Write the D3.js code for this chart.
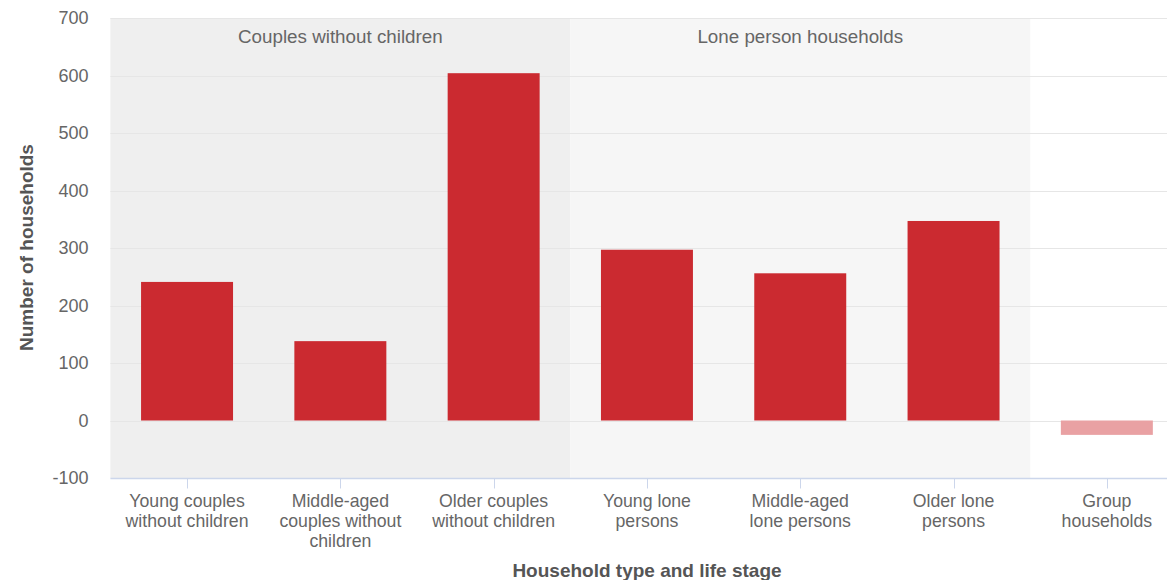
<!DOCTYPE html>
<html><head><meta charset="utf-8">
<script src="https://cdn.jsdelivr.net/npm/d3@7"></script>
<style>
html,body{margin:0;padding:0;background:#fff;overflow:hidden;}
svg{display:block;font-family:"Liberation Sans",Arial,sans-serif;}
</style></head>
<body><svg id="c" width="1167" height="580"></svg>
<script>
const categories = [
  ["Young couples","without children"],
  ["Middle-aged","couples without","children"],
  ["Older couples","without children"],
  ["Young lone","persons"],
  ["Middle-aged","lone persons"],
  ["Older lone","persons"],
  ["Group","households"]
];
const values = [241, 138, 604, 297, 256, 347, -25];
const yTicks = [-100, 0, 100, 200, 300, 400, 500, 600, 700];
const groupBands = [
  {label:"Couples without children", from:0, to:2, fill:"#efefef"},
  {label:"Lone person households", from:3, to:5, fill:"#f6f6f6"}
];
const yTitle = "Number of households";
const xTitle = "Household type and life stage";

(function(){
const svg = d3.select("#c");
const pLeft = 110.4, pTop = 18, pBottom = 478;
const step = 153.3;
const x = d3.scaleBand().domain(d3.range(categories.length))
  .range([pLeft, pLeft + step*categories.length]).paddingInner(0.4).paddingOuter(0.2);
const y = d3.scaleLinear().domain([-100, 700]).range([pBottom, pTop]);

groupBands.forEach(b => {
  const x0 = x(b.from) - x.step()*x.paddingInner()/2;
  const x1 = x(b.to) + x.bandwidth() + x.step()*x.paddingInner()/2;
  svg.append("rect").attr("x", x0).attr("y", pTop).attr("width", x1-x0).attr("height", pBottom-pTop).attr("fill", b.fill);
  svg.append("text").attr("x", (x0+x1)/2).attr("y", 42.5).attr("text-anchor","middle")
    .attr("font-size", 18.8).attr("fill", "#666").text(b.label);
});

svg.append("g").selectAll("line").data(yTicks.filter(t=>t!==-100)).join("line")
  .attr("x1", pLeft).attr("x2", 1167).attr("y1", d=>Math.round(y(d))+0.5).attr("y2", d=>Math.round(y(d))+0.5)
  .attr("stroke", "#e6e6e6").attr("stroke-width", 1);

svg.append("g").selectAll("text").data(yTicks).join("text")
  .attr("x", 88.5).attr("y", d=>y(d)+6.3).attr("text-anchor","end")
  .attr("font-size", 18).attr("fill", "#666").text(d=>d);

svg.append("g").selectAll("rect").data(values).join("rect")
  .attr("x", (d,i)=>x(i)).attr("width", x.bandwidth())
  .attr("y", d=>y(Math.max(0,d))).attr("height", d=>Math.abs(y(d)-y(0)))
  .attr("fill", d=> d<0 ? "#e9a1a3" : "#cb2a30");

const axisY = Math.round(y(-100))+0.5;
svg.append("line").attr("x1", pLeft).attr("x2", 1167).attr("y1", axisY).attr("y2", axisY)
  .attr("stroke", "#ccd6eb").attr("stroke-width", 1.5);
svg.append("g").selectAll("line").data(d3.range(categories.length)).join("line")
  .attr("x1", i=>Math.round(x(i)+x.bandwidth()/2)+0.5).attr("x2", i=>Math.round(x(i)+x.bandwidth()/2)+0.5)
  .attr("y1", axisY).attr("y2", axisY+10).attr("stroke", "#ccd6eb");

const xl = svg.append("g").selectAll("text").data(categories).join("text")
  .attr("text-anchor","middle").attr("font-size", 17.7).attr("fill", "#666")
  .attr("transform", (d,i)=>`translate(${x(i)+x.bandwidth()/2},507)`);
xl.selectAll("tspan").data(d=>d).join("tspan").attr("x",0).attr("dy",(d,i)=>i?20:0).text(d=>d);

svg.append("text").attr("x", 647).attr("y", 577).attr("text-anchor","middle")
  .attr("font-size", 19).attr("font-weight","bold").attr("fill","#555").text(xTitle);
svg.append("text").attr("transform","translate(33,247.5) rotate(-90)").attr("text-anchor","middle")
  .attr("font-size", 19).attr("font-weight","bold").attr("fill","#555").text(yTitle);
})();
</script></body></html>
